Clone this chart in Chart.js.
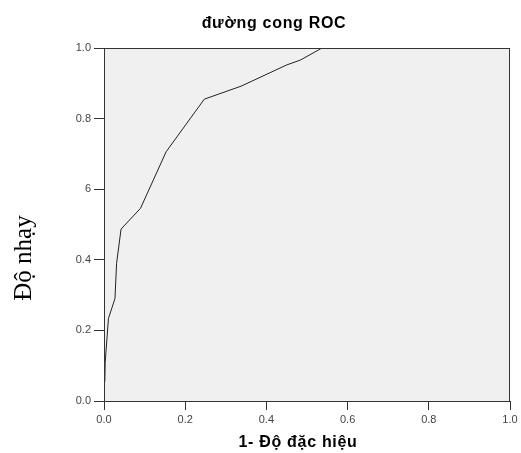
<!DOCTYPE html>
<html>
<head>
<meta charset="utf-8">
<script src="https://cdn.jsdelivr.net/npm/chart.js@4"></script>
<style>
  html, body { margin: 0; padding: 0; background: #ffffff; }
  #wrap { width: 521px; height: 453px; }
</style>
</head>
<body>
<div id="wrap"><canvas id="rocChart" width="521" height="453"></canvas></div>
<script>
// Datos de la curva ROC
var tieuDe = 'đường cong ROC';
var tieuDeX = '1- Độ đặc hiệu';
var tieuDeY = 'Độ nhạy';
var motTruDoDacHieu = [0.002, 0.003, 0.007, 0.011, 0.027, 0.031, 0.042, 0.090, 0.153, 0.247, 0.338, 0.450, 0.484, 0.537];
var doNhay          = [0.055, 0.110, 0.173, 0.234, 0.290, 0.390, 0.487, 0.546, 0.706, 0.855, 0.892, 0.952, 0.966, 1.000];
var nhanTrucY = {0: '0.0', 0.2: '0.2', 0.4: '0.4', 0.6: '6', 0.8: '0.8', 1: '1.0'};

var puntos = motTruDoDacHieu.map(function(x, i) { return {x: x, y: doNhay[i]}; });

// Plugin: fondo gris, marco y títulos
var marcoYTitulos = {
    id: 'marcoYTitulos',
    beforeDraw: function(chart) {
        var a = chart.chartArea, ctx = chart.ctx;
        ctx.save();
        ctx.fillStyle = '#f0f0f0';
        ctx.fillRect(a.left, a.top, a.right - a.left, a.bottom - a.top);
        ctx.restore();
    },
    afterDraw: function(chart) {
        var a = chart.chartArea, ctx = chart.ctx;
        ctx.save();
        ctx.strokeStyle = '#333333';
        ctx.lineWidth = 1;
        ctx.strokeRect(a.left + 0.5, a.top + 0.5, a.right - a.left - 1, a.bottom - a.top);

        ctx.fillStyle = '#000000';
        ctx.textAlign = 'center';
        ctx.textBaseline = 'middle';
        ctx.letterSpacing = '0.7px';
        ctx.font = 'bold 16px "Liberation Sans", Arial, sans-serif';
        ctx.fillText(tieuDe, 274, 24);
        ctx.fillText(tieuDeX, 298, 443);

        ctx.letterSpacing = '0px';
        ctx.font = '25px "Liberation Serif", "Times New Roman", serif';
        ctx.translate(24, 258);
        ctx.rotate(-Math.PI / 2);
        ctx.fillText(tieuDeY, 0, 0);
        ctx.restore();
    }
};

var ctx = document.getElementById('rocChart').getContext('2d');
new Chart(ctx, {
    type: 'scatter',
    data: {
        datasets: [{
            data: puntos,
            showLine: true,
            borderColor: '#222222',
            borderWidth: 1,
            pointRadius: 0,
            tension: 0
        }]
    },
    options: {
        responsive: false,
        animation: false,
        layout: { padding: { top: 48, right: 11, left: 0, bottom: 0 } },
        plugins: { legend: { display: false }, tooltip: { enabled: false } },
        scales: {
            x: {
                type: 'linear', min: 0, max: 1,
                afterFit: function(s) { s.height = 52; },
                border: { display: false },
                grid: { drawOnChartArea: false, tickLength: 9, color: '#333333' },
                ticks: {
                    stepSize: 0.2, padding: 3, color: '#444444',
                    font: { size: 11, family: '"Liberation Sans", Arial, sans-serif' },
                    callback: function(v) { return v.toFixed(1); }
                }
            },
            y: {
                type: 'linear', min: 0, max: 1,
                afterFit: function(s) { s.width = 104; },
                border: { display: false },
                grid: { drawOnChartArea: false, tickLength: 10, color: '#333333' },
                ticks: {
                    stepSize: 0.2, padding: 3, color: '#444444',
                    font: { size: 11, family: '"Liberation Sans", Arial, sans-serif' },
                    callback: function(v) {
                        var k = Math.round(v * 10) / 10;
                        return nhanTrucY[k] !== undefined ? nhanTrucY[k] : '';
                    }
                }
            }
        }
    },
    plugins: [marcoYTitulos]
});
</script>
</body>
</html>
